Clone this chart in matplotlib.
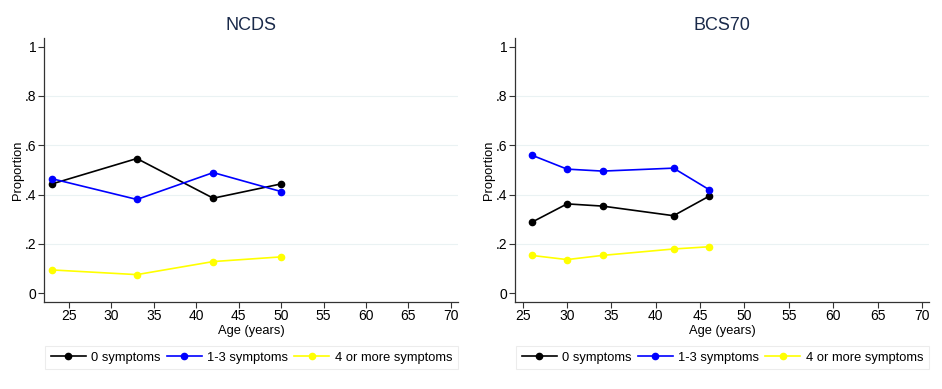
import numpy as np
import matplotlib
matplotlib.use("Agg")
import matplotlib.pyplot as plt

plt.rcParams['font.family'] = ['Liberation Sans', 'DejaVu Sans']

# NCDS data
ncds_age = [23, 33, 42, 50]
ncds_zero = [0.443, 0.546, 0.385, 0.443]
ncds_mid = [0.464, 0.380, 0.489, 0.412]
ncds_high = [0.094, 0.075, 0.128, 0.147]

# BCS70 data
bcs_age = [26, 30, 34, 42, 46]
bcs_zero = [0.287, 0.362, 0.353, 0.314, 0.393]
bcs_mid = [0.560, 0.503, 0.495, 0.507, 0.420]
bcs_high = [0.153, 0.136, 0.153, 0.179, 0.188]

labels = ['0 symptoms', '1-3 symptoms', '4 or more symptoms']
colors = ['#000000', '#0000ff', '#ffff00']
yticks = [0, 0.2, 0.4, 0.6, 0.8, 1]
yticklabels = ['0', '.2', '.4', '.6', '.8', '1']
xticks = np.arange(25, 75, 5)

fig = plt.figure(figsize=(9.42, 3.89), dpi=100)

panels = [
	('NCDS', ncds_age, [ncds_zero, ncds_mid, ncds_high], (22.05, 70.85), [0.0467, 0.2237, 0.4395, 0.678], 0.267),
	('BCS70', bcs_age, [bcs_zero, bcs_mid, bcs_high], (24.13, 70.8), [0.5467, 0.2237, 0.4395, 0.678], 0.767),
]

for title, age, series, xlim, rect, legx in panels:
	ax = fig.add_axes(rect)
	handles = []
	for vals, col, lab in zip(series, colors, labels):
		h, = ax.plot(age, vals, color=col, lw=1.2, marker='o', ms=4.5, label=lab)
		handles.append(h)
	ax.set_xlim(*xlim)
	ax.set_ylim(-0.036, 1.034)
	ax.set_xticks(xticks)
	ax.set_yticks(yticks)
	ax.set_yticklabels(yticklabels)
	for g in [0.2, 0.4, 0.6, 0.8]:
		ax.axhline(g, color='#eaf2f3', lw=0.8, zorder=0)
	for s in ['top', 'right']:
		ax.spines[s].set_visible(False)
	for s in ['left', 'bottom']:
		ax.spines[s].set_color('#333333')
		ax.spines[s].set_linewidth(0.9)
	ax.tick_params(axis='both', labelsize=10, color='#333333', length=4.3, width=0.8, pad=1)
	ax.set_xlabel('Age (years)', fontsize=9.3, labelpad=1)
	ax.set_ylabel('Proportion', fontsize=9.3, labelpad=0.5)
	ax.set_title(title, fontsize=13, color='#1a2a4a', pad=6)
	leg = fig.legend(handles=handles, loc='center', bbox_to_anchor=(legx, 0.081),
		ncol=3, fontsize=9.3, frameon=True, fancybox=False, numpoints=1,
		handlelength=2.7, handletextpad=0.45, columnspacing=0.45, borderpad=0.45,
		borderaxespad=0)
	leg.get_frame().set_edgecolor('#e8e8e8')
	leg.get_frame().set_linewidth(0.8)

fig.savefig('out.png', dpi=100)
